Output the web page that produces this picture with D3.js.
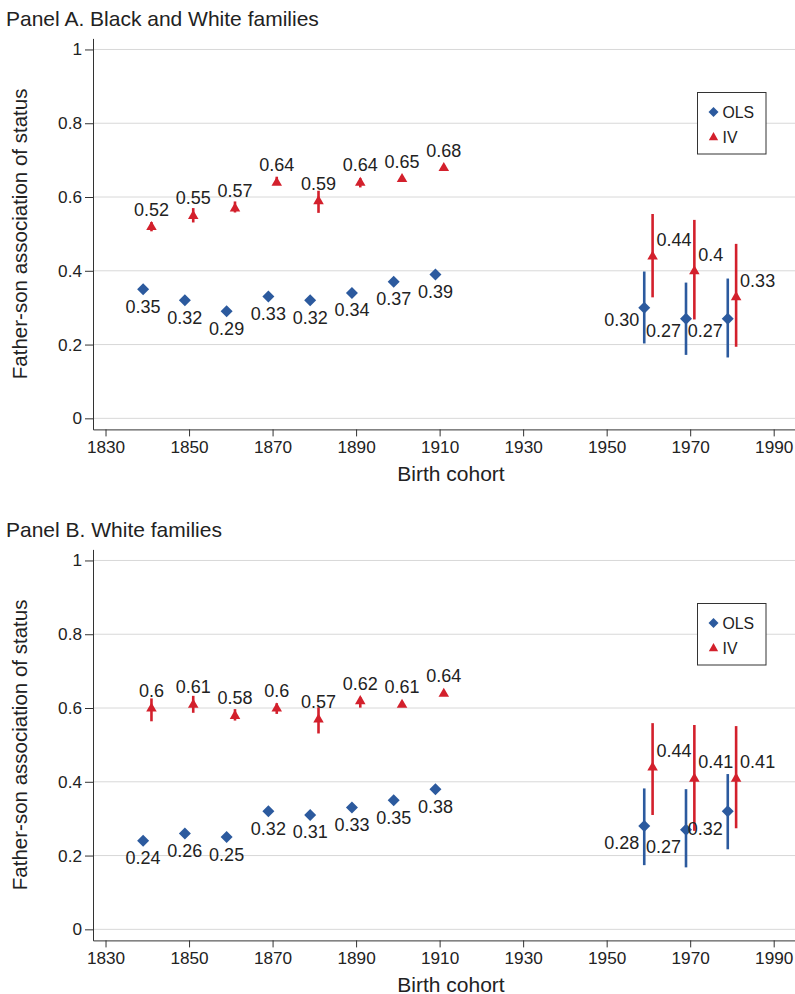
<!DOCTYPE html>
<html>
<head>
<meta charset="utf-8">
<script src="https://cdn.jsdelivr.net/npm/d3@7"></script>
<style>
  body { margin: 0; background: #fff; }
  svg { display: block; font-family: "Liberation Sans", Arial, Helvetica, sans-serif; }
</style>
</head>
<body>
<div id="chart"></div>
<script>
// cohorts: OLS and IV are offset by a year so the markers do not overlap
var olsCohorts = [1839, 1849, 1859, 1869, 1879, 1889, 1899, 1909, 1959, 1969, 1979];
var ivCohorts  = [1841, 1851, 1861, 1871, 1881, 1891, 1901, 1911, 1961, 1971, 1981];
var xTicks = [1830, 1850, 1870, 1890, 1910, 1930, 1950, 1970, 1990];
var yTicks = [0, 0.2, 0.4, 0.6, 0.8, 1];

// Panel A. Black and White families
var aOls     = [0.35, 0.32, 0.29, 0.33, 0.32, 0.34, 0.37, 0.39, 0.30, 0.27, 0.27];
var aOlsLo   = [0.345, 0.315, 0.285, 0.325, 0.315, 0.335, 0.365, 0.385, 0.203, 0.172, 0.165];
var aOlsHi   = [0.355, 0.325, 0.295, 0.335, 0.325, 0.345, 0.375, 0.395, 0.398, 0.368, 0.379];
var aOlsLbl  = ["0.35", "0.32", "0.29", "0.33", "0.32", "0.34", "0.37", "0.39", "0.30", "0.27", "0.27"];
var aIv      = [0.52, 0.55, 0.57, 0.64, 0.59, 0.64, 0.65, 0.68, 0.44, 0.40, 0.33];
var aIvLo    = [0.507, 0.531, 0.558, 0.633, 0.557, 0.626, 0.643, 0.673, 0.328, 0.268, 0.194];
var aIvHi    = [0.532, 0.570, 0.588, 0.655, 0.617, 0.651, 0.657, 0.687, 0.554, 0.538, 0.473];
var aIvLbl   = ["0.52", "0.55", "0.57", "0.64", "0.59", "0.64", "0.65", "0.68", "0.44", "0.4", "0.33"];

// Panel B. White families
var bOls     = [0.24, 0.26, 0.25, 0.32, 0.31, 0.33, 0.35, 0.38, 0.28, 0.27, 0.32];
var bOlsLo   = [0.235, 0.255, 0.245, 0.315, 0.305, 0.325, 0.345, 0.375, 0.174, 0.168, 0.217];
var bOlsHi   = [0.245, 0.265, 0.255, 0.325, 0.315, 0.335, 0.355, 0.385, 0.382, 0.380, 0.421];
var bOlsLbl  = ["0.24", "0.26", "0.25", "0.32", "0.31", "0.33", "0.35", "0.38", "0.28", "0.27", "0.32"];
var bIv      = [0.60, 0.61, 0.58, 0.60, 0.57, 0.62, 0.61, 0.64, 0.44, 0.41, 0.41];
var bIvLo    = [0.564, 0.587, 0.566, 0.584, 0.531, 0.601, 0.603, 0.633, 0.310, 0.267, 0.274];
var bIvHi    = [0.626, 0.633, 0.597, 0.613, 0.602, 0.629, 0.617, 0.647, 0.559, 0.554, 0.551];
var bIvLbl   = ["0.6", "0.61", "0.58", "0.6", "0.57", "0.62", "0.61", "0.64", "0.44", "0.41", "0.41"];

var blue = "#2c5a9e", red = "#d3202c", ink = "#222";
var W = 795, H = 994;

var svg = d3.select("#chart").append("svg")
    .attr("width", W).attr("height", H);

var x = d3.scaleLinear().domain([1827, 1995.1]).range([93, 795]);

function zip(cohorts, v, lo, hi, lbl) {
    return cohorts.map(function (c, i) {
        return { c: c, v: v[i], lo: lo[i], hi: hi[i], lbl: lbl[i], modern: c > 1930 };
    });
}

function drawPanel(top, title, ols, iv, olsLblDrop) {
    var g = svg.append("g").attr("transform", "translate(0," + top + ")");
    var y = d3.scaleLinear().domain([-0.03, 1.03]).range([429.4, 38.4]);

    g.append("text").attr("x", 6).attr("y", 26)
        .attr("font-size", 21).attr("fill", ink).text(title);

    // gridlines
    g.append("g").selectAll("line").data(yTicks).join("line")
        .attr("x1", x.range()[0]).attr("x2", x.range()[1])
        .attr("y1", function (d) { return y(d); }).attr("y2", function (d) { return y(d); })
        .attr("stroke", "#d8d8d8").attr("stroke-width", 1);

    // axes
    var yAxis = g.append("g").attr("transform", "translate(" + x.range()[0] + ",0)")
        .call(d3.axisLeft(y).tickValues(yTicks).tickSize(8).tickSizeOuter(0).tickPadding(3)
            .tickFormat(function (d) { return d3.format("~g")(d); }));
    var xAxis = g.append("g").attr("transform", "translate(0," + y.range()[0] + ")")
        .call(d3.axisBottom(x).tickValues(xTicks).tickSize(7).tickSizeOuter(0).tickPadding(4)
            .tickFormat(d3.format("d")));
    [yAxis, xAxis].forEach(function (a) {
        a.select(".domain").attr("stroke", "#333");
        a.selectAll(".tick line").attr("stroke", "#333");
        a.selectAll(".tick text").attr("font-size", 17.2).attr("fill", ink)
            .attr("font-family", "Liberation Sans, Arial, sans-serif");
    });

    g.append("text").attr("transform", "translate(26.5," + y(0.5) + ") rotate(-90)")
        .attr("text-anchor", "middle").attr("font-size", 20.5).attr("fill", ink)
        .text("Father-son association of status");
    g.append("text").attr("x", 451).attr("y", 481)
        .attr("text-anchor", "middle").attr("font-size", 21).attr("fill", ink)
        .text("Birth cohort");

    // error bars
    [[ols, blue], [iv, red]].forEach(function (s) {
        g.append("g").selectAll("line").data(s[0]).join("line")
            .attr("x1", function (d) { return x(d.c); }).attr("x2", function (d) { return x(d.c); })
            .attr("y1", function (d) { return y(d.lo); }).attr("y2", function (d) { return y(d.hi); })
            .attr("stroke", s[1]).attr("stroke-width", 2.6);
    });

    var diamond = d3.symbol().type(d3.symbolSquare).size(72);
    var tri = d3.symbol().type(d3.symbolTriangle).size(48);

    g.append("g").selectAll("path").data(ols).join("path")
        .attr("d", diamond)
        .attr("transform", function (d) { return "translate(" + x(d.c) + "," + y(d.v) + ") rotate(45)"; })
        .attr("fill", blue);
    g.append("g").selectAll("path").data(iv).join("path")
        .attr("d", tri)
        .attr("transform", function (d) { return "translate(" + x(d.c) + "," + (y(d.v) + 0.5) + ")"; })
        .attr("fill", red);

    // value labels
    g.append("g").selectAll("text").data(ols).join("text")
        .attr("x", function (d) { return d.modern ? x(d.c) - 5 : x(d.c); })
        .attr("y", function (d) { return d.modern ? y(d.v) + olsLblDrop + 6.4 : y(d.v) + 23.4; })
        .attr("text-anchor", function (d) { return d.modern ? "end" : "middle"; })
        .attr("font-size", 18).attr("fill", ink)
        .text(function (d) { return d.lbl; });
    g.append("g").selectAll("text").data(iv).join("text")
        .attr("x", function (d) { return d.modern ? x(d.c) + 4 : x(d.c); })
        .attr("y", function (d) { return d.modern ? y(d.v) - 10 : y(d.v) - 11; })
        .attr("text-anchor", function (d) { return d.modern ? "start" : "middle"; })
        .attr("font-size", 18).attr("fill", ink)
        .text(function (d) { return d.lbl; });

    // legend
    var lg = g.append("g").attr("transform", "translate(697.5,92.5)");
    lg.append("rect").attr("width", 68.5).attr("height", 61.5)
        .attr("fill", "#fff").attr("stroke", "#333").attr("stroke-width", 1);
    lg.append("path").attr("d", d3.symbol().type(d3.symbolSquare).size(50))
        .attr("transform", "translate(16,19.5) rotate(45)").attr("fill", blue);
    lg.append("text").attr("x", 25).attr("y", 25.5).attr("font-size", 15.8).attr("fill", ink).text("OLS");
    lg.append("path").attr("d", d3.symbol().type(d3.symbolTriangle).size(38))
        .attr("transform", "translate(16,45)").attr("fill", red);
    lg.append("text").attr("x", 25).attr("y", 50.5).attr("font-size", 15.8).attr("fill", ink).text("IV");
}

drawPanel(0, "Panel A. Black and White families",
    zip(olsCohorts, aOls, aOlsLo, aOlsHi, aOlsLbl),
    zip(ivCohorts, aIv, aIvLo, aIvHi, aIvLbl), 11.5);
drawPanel(511, "Panel B. White families",
    zip(olsCohorts, bOls, bOlsLo, bOlsHi, bOlsLbl),
    zip(ivCohorts, bIv, bIvLo, bIvHi, bIvLbl), 17);
</script>
</body>
</html>
